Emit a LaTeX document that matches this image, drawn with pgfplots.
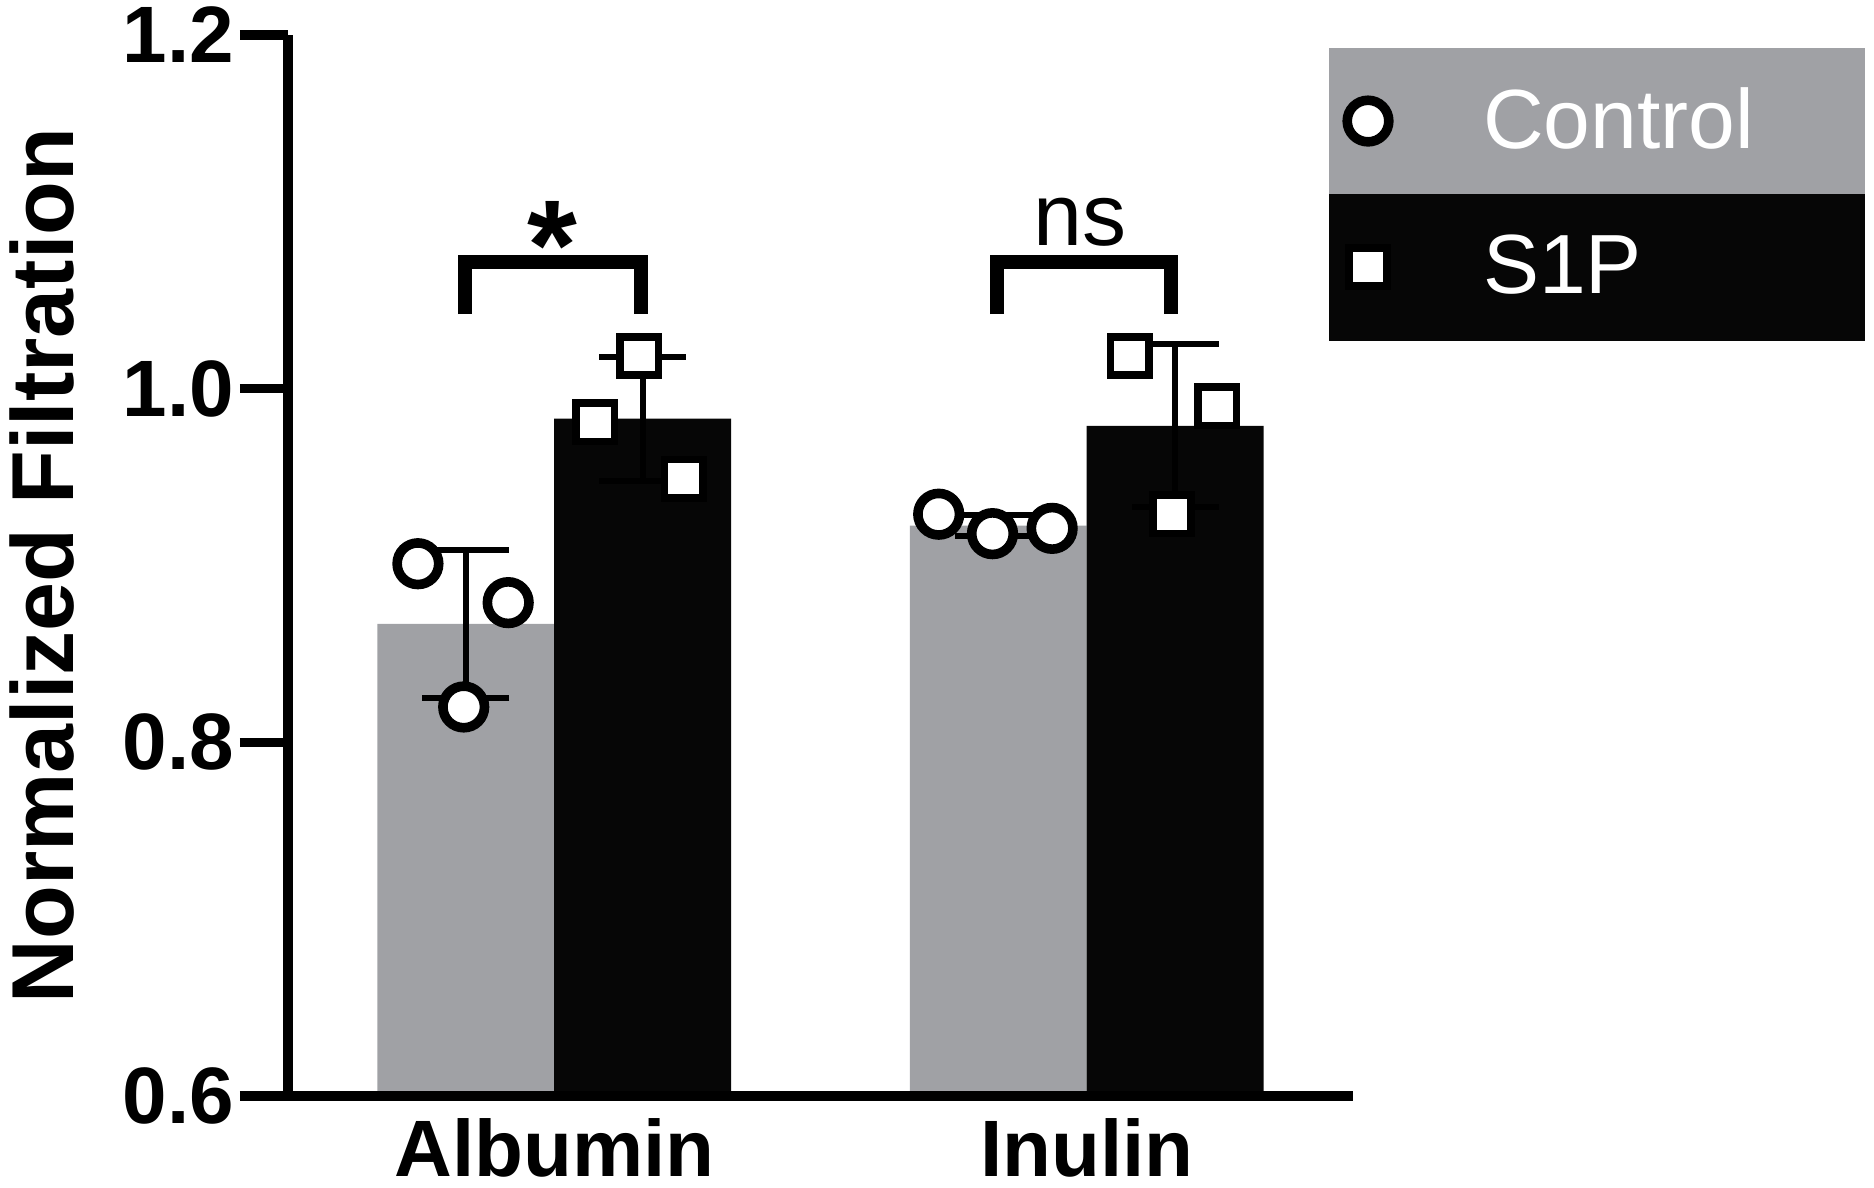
\documentclass[border=0pt]{standalone}
\usepackage{fontspec}
\setmainfont{Liberation Sans}
\usepackage{pgfplots}
\pgfplotsset{compat=1.18}
\definecolor{barGray}{RGB}{160,161,165}
\definecolor{barBlack}{RGB}{6,6,6}
\begin{document}
\begin{tikzpicture}
\fill[barGray] (260.25pt,225.5pt) rectangle (394.25pt,262pt);
\fill[barBlack] (260.25pt,188.75pt) rectangle (394.25pt,225.5pt);
\begin{axis}[
  at={(0pt,0pt)}, anchor=south west,
  scale only axis, width=266.25pt, height=265.25pt,
  xmin=-0.5, xmax=1.5, ymin=0.6, ymax=1.2,
  axis x line*=bottom, axis y line*=left,
  axis line style={line width=2.7pt, black},
  axis on top,
  xtick={0,1}, xticklabels={Albumin,Inulin},
  ytick={0.6,0.8,1.0,1.2},
  tick align=outside,
  major tick length=12pt,
  ytick style={line width=2.3pt, black},
  xtick style={draw=none},
  tick label style={font=\bfseries\fontsize{20}{24}\selectfont},
  xticklabel style={anchor=base, inner sep=0pt, yshift=-8pt},
  yticklabel style={anchor=east, inner sep=0pt, xshift=-1.25pt},
  /pgf/number format/assume math mode=true,
  yticklabel style={/pgf/number format/fixed, /pgf/number format/fixed zerofill, /pgf/number format/precision=1},
  ylabel={Normalized Filtration},
  every axis y label/.style={at={(axis description cs:-0.231,0.5)}, rotate=90, anchor=center, inner sep=0pt, font=\bfseries\fontsize{22}{26}\selectfont},
  legend style={at={(axis description cs:0.9775,0.9877)}, anchor=north west, draw=none, fill=none, inner sep=0pt, outer sep=0pt, row sep=0pt, column sep=0pt, text=white, font=\fontsize{21}{25}\selectfont, nodes={minimum height=36.5pt, inner sep=0pt, anchor=west}},
  legend cell align=left,
  legend image code/.code={\path[draw=none, fill=none] (0pt,-1pt) rectangle (38.5pt,1pt); \draw[#1] plot coordinates {(9.75pt,0pt)};},
]
\addplot[ybar, bar width=0.332, bar shift=0pt, fill=barGray, draw=none, forget plot] coordinates {(-0.166,0.867) (0.834,0.9225)};
\addplot[ybar, bar width=0.332, bar shift=0pt, fill=barBlack, draw=none, forget plot] coordinates {(0.166,0.983) (1.166,0.979)};
\addplot[only marks, mark=*, mark size=5.2pt, mark options={fill=white, draw=black, line width=2.4pt}] coordinates {(-0.256,0.901) (-0.0865,0.879) (-0.170,0.820) (0.722,0.929) (0.823,0.918) (0.935,0.921)};
\addlegendentry{Control}
\addplot[only marks, mark=square*, mark size=4.8pt, mark options={fill=white, draw=black, line width=1.9pt}] coordinates {(0.077,0.981) (0.160,1.0185) (0.243,0.949) (1.081,1.0185) (1.245,0.990) (1.160,0.929)};
\addlegendentry{S1P}
\addplot[forget plot, draw=none, mark=none, error bars/.cd, y dir=both, y explicit, error mark=|, error bar style={draw=black, line width=1.5pt}, error mark options={draw=black, line width=1.5pt, mark size=10.9pt}] coordinates {(-0.166,0.867) +- (0,0.042) (0.166,0.983) +- (0,0.035) (0.834,0.9225) +- (0,0.006) (1.166,0.979) +- (0,0.046)};
\draw[line width=3.5pt, line join=miter, line cap=butt] (axis cs:-0.168,1.0422) -- (axis cs:-0.168,1.0719) -- (axis cs:0.162,1.0719) -- (axis cs:0.162,1.0422);
\draw[line width=3.5pt, line join=miter, line cap=butt] (axis cs:0.832,1.0422) -- (axis cs:0.832,1.0719) -- (axis cs:1.158,1.0719) -- (axis cs:1.158,1.0422);
\node[anchor=base, inner sep=0pt, font=\bfseries\fontsize{32}{36}\selectfont] at (axis cs:-0.003,1.056) {*};
\node[anchor=base, inner sep=0pt, font=\fontsize{22}{26}\selectfont] at (axis cs:0.987,1.0812) {ns};
\end{axis}
\pgfresetboundingbox
\path[use as bounding box] (-72pt,-23pt) rectangle (396.5pt,274pt);
\end{tikzpicture}
\end{document}
